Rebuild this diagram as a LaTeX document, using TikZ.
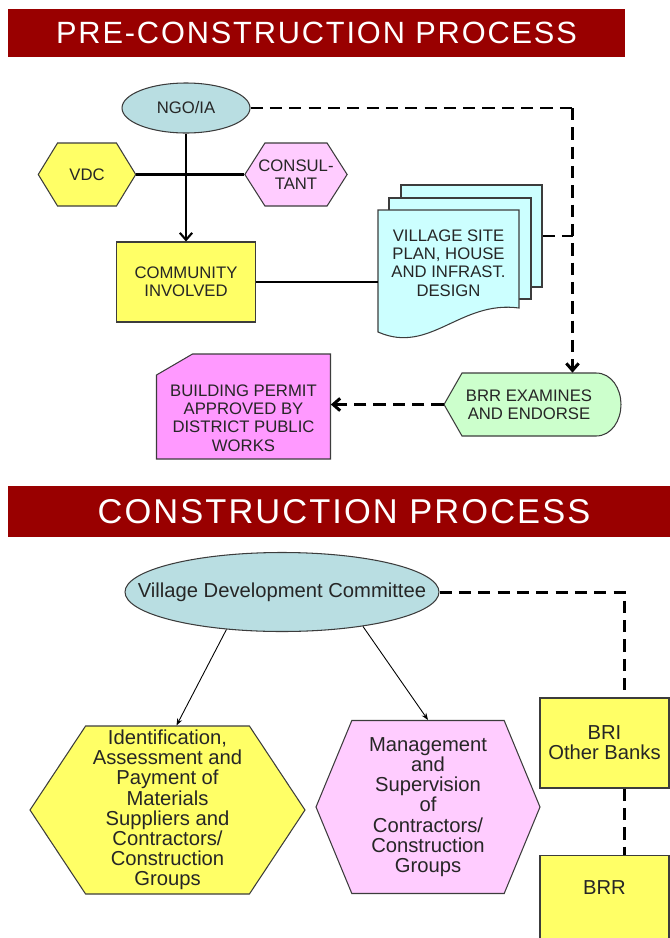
\documentclass[tikz,border=0pt]{standalone}
\usepackage{fontspec}
\setmainfont{Liberation Sans}
\newfontfamily\titlefont[LetterSpace=6]{Liberation Sans}
\usetikzlibrary{shapes.geometric, shapes.symbols, arrows.meta, positioning, calc}
\definecolor{titlered}{RGB}{153, 0, 0}
\definecolor{ovalblue}{RGB}{185, 222, 226}
\definecolor{boxyellow}{RGB}{255, 255, 102}
\definecolor{hexpink}{RGB}{255, 204, 255}
\definecolor{doccyan}{RGB}{204, 255, 255}
\definecolor{endgreen}{RGB}{204, 255, 204}
\definecolor{permitpink}{RGB}{255, 153, 255}
\definecolor{edgegray}{RGB}{60, 60, 60}

\begin{document}
\begin{tikzpicture}[
  titlebar/.style={fill=titlered, text=white, inner sep=0pt},
  uppertext/.style={font=\fontsize{9.5}{10.4}\selectfont, align=center, text=black!85},
  lowertext/.style={font=\fontsize{11.5}{11.5}\selectfont, align=center, text=black!85},
  oval/.style={ellipse, draw=edgegray, line width=0.6pt, fill=ovalblue, inner sep=0pt},
  hexbox/.style={signal, signal to=east and west, draw=edgegray, line width=0.6pt, inner sep=0pt},
  yellowbox/.style={rectangle, draw=edgegray, line width=0.6pt, fill=boxyellow},
  docpage/.style={rectangle, draw=edgegray, line width=0.6pt, fill=doccyan},
  outline/.style={draw=edgegray, line width=0.6pt},
  solidlink/.style={line width=1.2pt},
  dashlink/.style={line width=1.7pt, dash pattern=on 7pt off 4pt},
  barbtip/.style={-{Straight Barb[length=4pt,width=7pt]}},
  thinarrow/.style={line width=0.5pt, -{Stealth[length=4pt,width=3pt]}},
]
  \useasboundingbox (0,0) rectangle (13.4,-18.76);

  % Titles
  \node[titlebar, minimum width=12.34cm, minimum height=0.95cm, font=\titlefont\fontsize{17.5}{20}\selectfont] (pretitle) at (6.33,-0.66) {PRE-CONSTRUCTION PROCESS};
  \node[titlebar, minimum width=13.44cm, minimum height=1.02cm, font=\titlefont\fontsize{19.6}{22}\selectfont] (contitle) at (6.88,-10.23) {CONSTRUCTION PROCESS};

  % Pre-construction
  \node[oval, uppertext, minimum width=2.56cm, minimum height=1.0cm] (ngo) at (3.72,-2.16) {NGO/IA};
  \node[hexbox, uppertext, fill=boxyellow, signal pointer angle=117, minimum width=1.95cm, minimum height=1.26cm] (vdc) at (1.74,-3.49) {VDC};
  \node[hexbox, uppertext, fill=hexpink, signal pointer angle=115, inner xsep=-0.13cm, minimum width=2.04cm, minimum height=1.26cm] (consult) at (5.92,-3.49) {CONSUL-\\TANT};
  \node[yellowbox, uppertext, minimum width=2.77cm, minimum height=1.6cm] (community) at (3.72,-5.64) {COMMUNITY\\INVOLVED};
  \draw[solidlink] (vdc.east) -- (consult.west);
  \draw[solidlink, barbtip] (ngo.south) -- (community.north);

  % Plan documents
  \node[docpage, minimum width=2.82cm, minimum height=2.04cm] (page3) at (9.43,-4.72) {};
  \node[docpage, minimum width=2.84cm, minimum height=2.02cm] (page2) at (9.20,-4.97) {};
  \filldraw[outline, fill=doccyan] (7.56,-4.20) -- (10.38,-4.20) -- (10.38,-6.16)
    .. controls (9.20,-6.00) and (8.60,-7.10) .. (7.56,-6.64) -- cycle;
  \node[uppertext, minimum width=2.82cm] (plan) at (8.97,-5.26) {VILLAGE SITE\\PLAN, HOUSE\\AND INFRAST.\\DESIGN};
  \draw[solidlink] (community.east) -- (community.east -| plan.west);

  % Examination and permit
  \filldraw[outline, fill=endgreen] (8.88,-8.09) -- (9.24,-7.46) -- (11.92,-7.46)
    to[out=0, in=90] (12.42,-8.09) to[out=-90, in=0] (11.92,-8.72) -- (9.24,-8.72) -- cycle;
  \node[uppertext, minimum width=3.40cm, minimum height=1.26cm] (brr) at (10.58,-8.09) {BRR EXAMINES\\AND ENDORSE};
  \filldraw[outline, fill=permitpink] (3.13,-7.50) -- (3.85,-7.08) -- (6.61,-7.08) -- (6.61,-9.18) -- (3.13,-9.18) -- cycle;
  \node[uppertext, minimum width=3.48cm] (permit) at (4.87,-8.36) {BUILDING PERMIT\\APPROVED BY\\DISTRICT PUBLIC\\WORKS};

  \coordinate (ngoturn) at (11.45,-2.16);
  \draw[dashlink] (ngo.east) -- (ngoturn);
  \draw[dashlink, barbtip] (ngoturn) -- (ngoturn |- brr.north);
  \draw[dashlink] (page3.east) -- (page3.east -| ngoturn);
  \draw[dashlink, barbtip] (brr.west) -- (brr.west -| permit.east);

  % Construction
  \node[oval, lowertext, minimum width=6.28cm, minimum height=1.58cm] (vdcouncil) at (5.64,-11.84) {\makebox[0pt]{Village Development Committee}};
  \node[hexbox, lowertext, fill=boxyellow, signal pointer angle=113, minimum width=5.5cm, minimum height=3.36cm] (materials) at (3.35,-16.20) {Identification,\\Assessment and\\Payment of\\Materials\\Suppliers and\\Contractors/\\Construction\\Groups};
  \node[hexbox, lowertext, fill=hexpink, signal pointer angle=135, minimum width=4.48cm, minimum height=3.46cm] (supervise) at (8.56,-16.14) {Management\\and\\Supervision\\of\\Contractors/\\Construction\\Groups};
  \draw[thinarrow] (vdcouncil.214) -- ([xshift=0.18cm]materials.north);
  \draw[thinarrow] (vdcouncil.-23) -- (supervise.north);

  % Banks
  \node[yellowbox, lowertext, minimum width=2.58cm, minimum height=1.80cm] (banks) at (12.09,-14.86) {BRI\\Other Banks};
  \node[yellowbox, lowertext, anchor=north, minimum width=2.58cm, inner ysep=0.5cm, text depth=1.2cm] (brrfund) at (12.09,-17.10) {BRR};
  \coordinate (bankturn) at (12.48,-11.84);
  \draw[dashlink] (vdcouncil.east) -- (bankturn) -- (bankturn |- banks.north);
  \draw[dashlink] (banks.south -| bankturn) -- (brrfund.north -| bankturn);
\end{tikzpicture}
\end{document}
